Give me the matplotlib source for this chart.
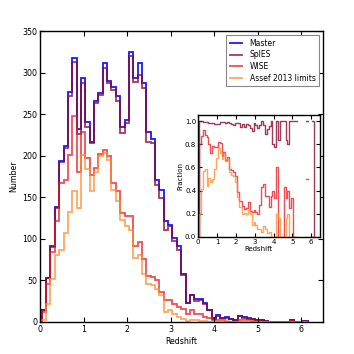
import numpy as np
import matplotlib
matplotlib.use("Agg")
import matplotlib.pyplot as plt

# bin edges (redshift), width 0.1 starting at z=0.04
bin_start = 0.04
bin_width = 0.1
n_bins = 61

master = [15, 53, 91, 138, 194, 212, 277, 317, 232, 294,
          240, 217, 266, 275, 311, 290, 283, 272, 234, 243,
          325, 294, 312, 288, 228, 220, 171, 159, 121, 117,
          101, 91, 58, 23, 33, 28, 28, 23, 14, 5,
          9, 5, 6, 4, 2, 7, 6, 5, 4, 3,
          3, 1, 0, 0, 0, 0, 0, 2, 0, 0, 1]
spies = [15, 53, 90, 137, 192, 209, 272, 313, 226, 288,
         235, 215, 263, 273, 306, 288, 279, 266, 227, 239,
         320, 289, 297, 282, 217, 215, 165, 149, 111, 115,
         98, 86, 56, 23, 32, 25, 26, 22, 14, 4,
         7, 5, 5, 4, 2, 7, 5, 4, 4, 3,
         3, 1, 0, 0, 0, 0, 0, 2, 0, 0, 1]
wise = [12, 46, 84, 122, 167, 171, 201, 248, 181, 228,
        197, 177, 185, 202, 207, 200, 167, 158, 131, 128,
        127, 91, 96, 76, 55, 54, 51, 36, 26, 27,
        22, 18, 16, 10, 15, 10, 10, 6, 5, 2,
        3, 3, 0, 0, 0, 3, 2, 2, 1, 1,
        0, 0, 0, 0, 0, 0, 0, 1, 0, 0, 0]
assef = [3, 22, 52, 81, 86, 107, 132, 158, 137, 201,
         184, 158, 180, 200, 203, 195, 159, 145, 123, 116,
         111, 77, 81, 58, 46, 44, 40, 32, 12, 15,
         10, 6, 4, 1, 3, 2, 1, 1, 0, 0,
         0, 1, 1, 0, 0, 0, 1, 1, 0, 0,
         0, 0, 0, 0, 0, 0, 0, 0, 0, 0, 0]

labels = ["Master", "SpIES", "WISE", "Assef 2013 limits"]
colors = ["#0000ff", "#8b0a2e", "#e8141e", "#ff8a2a"]
alphas = [0.9, 0.8, 0.75, 0.75]

edges = bin_start + bin_width * np.arange(n_bins + 1)
series = [np.array(master, float), np.array(spies, float),
          np.array(wise, float), np.array(assef, float)]

plt.rcParams['font.family'] = ['DejaVu Sans']
fig = plt.figure(figsize=(3.54, 3.54), dpi=100)
ax = fig.add_axes([0.113, 0.0904, 0.800, 0.822])

for vals, lab, c, a in zip(series, labels, colors, alphas):
    ax.stairs(vals, edges, color=c, alpha=a, lw=1.3, label=lab)

ax.set_xlim(0, 6.5)
ax.set_ylim(0, 350)
ax.set_xticks(range(0, 7))
ax.set_yticks(range(0, 351, 50))
ax.tick_params(direction='in', top=True, right=True, length=3.5, width=0.8,
               labelsize=5.7, pad=2)
for s in ax.spines.values():
    s.set_linewidth(1.0)
ax.set_xlabel("Redshift", fontsize=5.7, labelpad=2)
ax.set_ylabel("Number", fontsize=5.7, labelpad=3)

leg = ax.legend(loc='upper right', fontsize=5.5, fancybox=False,
                edgecolor='#888888', framealpha=1, handlelength=1.6,
                handletextpad=1.0, labelspacing=0.35, borderpad=0.5,
                borderaxespad=0.5)
leg.get_frame().set_linewidth(0.8)

# inset: fractions relative to master
ins = fig.add_axes([0.560, 0.331, 0.343, 0.343])
m = series[0]
xs = np.repeat(edges, 2)
for vals, c, a in zip(series[1:], colors[1:], alphas[1:]):
    with np.errstate(divide='ignore', invalid='ignore'):
        frac = np.where(m > 0, vals / m, np.nan)
    ys = np.concatenate([[0.0], np.repeat(frac, 2), [0.0]])
    ins.plot(xs, ys, color=c, alpha=a, lw=1.0)

ins.set_xlim(0, 6.45)
ins.set_ylim(0, 1.05)
ins.set_xticks(range(0, 7))
ins.set_yticks([0.0, 0.2, 0.4, 0.6, 0.8, 1.0])
ins.tick_params(direction='in', top=True, right=True, length=3, width=0.8,
                labelsize=5, pad=1.5)
for s in ins.spines.values():
    s.set_linewidth(1.0)
ins.set_xlabel("Redshift", fontsize=5, labelpad=1)
ins.set_ylabel("Fraction", fontsize=5, labelpad=1)

fig.savefig("out.png", dpi=100)
